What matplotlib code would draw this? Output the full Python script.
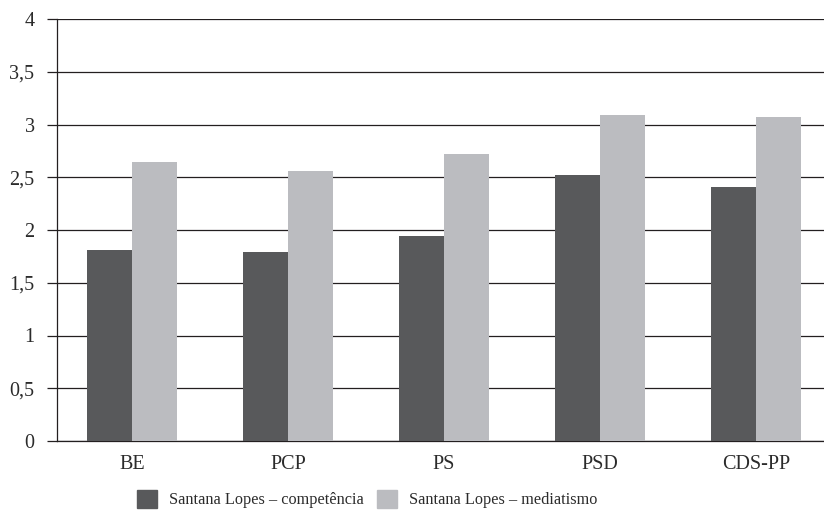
import numpy as np
import matplotlib
matplotlib.use("Agg")
import matplotlib.pyplot as plt
from matplotlib.patches import Patch

partidos = ["BE", "PCP", "PS", "PSD", "CDS-PP"]
competencia = [1.81, 1.79, 1.94, 2.52, 2.41]
mediatismo = [2.64, 2.56, 2.72, 3.09, 3.07]
yticks = [0, 0.5, 1, 1.5, 2, 2.5, 3, 3.5, 4]
ytick_labels = ["0", "0,5", "1", "1,5", "2", "2,5", "3", "3,5", "4"]
series_labels = ["Santana Lopes – competência", "Santana Lopes – mediatismo"]

cor_escura = "#58595b"
cor_clara = "#bbbcc0"
cor_linha = "#231f20"
cor_texto = "#2b2b2b"

plt.rcParams["font.family"] = ["Liberation Serif", "DejaVu Serif"]

fig = plt.figure(figsize=(8.24, 5.2), dpi=100)
ax = fig.add_axes([57 / 824, 79 / 520, 1 - 57 / 824, 422 / 520])

x = np.arange(len(partidos))
w = 0.29
ax.bar(x - w / 2, competencia, width=w, color=cor_escura, zorder=3)
ax.bar(x + w / 2, mediatismo, width=w, color=cor_clara, zorder=3)

ax.set_ylim(0, 4)
ax.set_xlim(-0.48, 4.436)
ax.set_yticks(yticks)
ax.set_yticklabels(ytick_labels)
ax.set_xticks(x)
ax.set_xticklabels(partidos)

# grelha horizontal
ax.yaxis.grid(True, color=cor_linha, linewidth=0.9, zorder=1)
for s in ["top", "right"]:
    ax.spines[s].set_visible(False)
ax.spines["left"].set_color(cor_linha)
ax.spines["left"].set_linewidth(0.9)
ax.spines["bottom"].set_color(cor_linha)
ax.spines["bottom"].set_linewidth(0.9)

ax.tick_params(axis="y", length=7.2, width=0.9, color=cor_linha, pad=9,
               labelsize=14.5, labelcolor=cor_texto)
ax.tick_params(axis="x", length=0, pad=10, labelsize=14.5, labelcolor=cor_texto)

handles = [Patch(color=cor_escura), Patch(color=cor_clara)]
fig.legend(handles, series_labels, loc="center", bbox_to_anchor=(0.446, 0.04),
           ncol=2, frameon=False, fontsize=11.7, handlelength=1.23,
           handleheight=1.35, handletextpad=0.74, columnspacing=0.8,
           labelcolor=cor_texto)

plt.savefig("out.png", dpi=100)
